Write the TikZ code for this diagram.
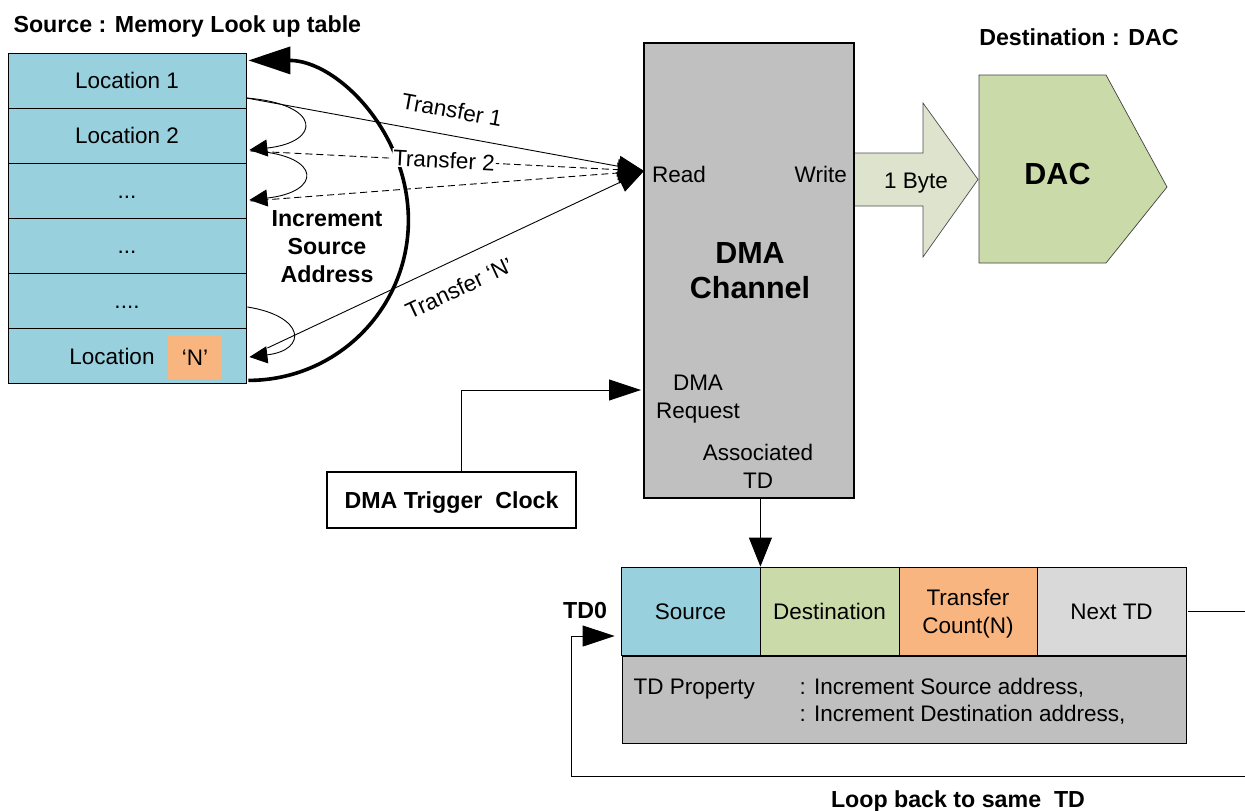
\documentclass[tikz,border=0pt]{standalone}
\usepackage{fontspec}
\setmainfont{Liberation Sans}
\usetikzlibrary{arrows.meta,calc}

\definecolor{memblue}{HTML}{99D0DE}
\definecolor{dacgreen}{HTML}{CADBA9}
\definecolor{cntorange}{HTML}{F8B580}
\definecolor{bytefill}{HTML}{DDE3CC}
\definecolor{nextgray}{HTML}{D9D9D9}
\definecolor{propgray}{HTML}{BFBFBF}
\definecolor{dmagray}{HTML}{C0C0C0}

\begin{document}
\begin{tikzpicture}[x=1pt,y=-1pt,
  rg/.style={font=\fontsize{22.5}{28}\selectfont},
  bd/.style={font=\fontsize{23.2}{28}\selectfont\bfseries},
  big/.style={font=\fontsize{30.5}{35}\selectfont\bfseries},
  one/.style={text height=16.1pt,text depth=0pt},
  two/.style={text height=44.1pt,text depth=0pt,align=center},
  memrow/.style={draw,line width=0.8pt,fill=memblue,minimum width=238pt,
    minimum height=55pt,inner sep=0pt,rg,one},
  tdcell/.style={draw,line width=0.8pt,minimum height=88pt,inner sep=0pt,rg},
  fine/.style={line width=0.9pt},
  dashline/.style={line width=0.9pt,dash pattern=on 7pt off 4pt},
  tipA/.style={-{Triangle[length=18pt,width=17pt]}},
  tipR/.style={-{Triangle[length=26pt,width=21pt]}},
  tipB/.style={-{Triangle[length=32pt,width=21pt]}},
  tipC/.style={-{Triangle[length=29pt,width=23pt]}},
]
\useasboundingbox (0,0) rectangle (1245,811);

% ---------- memory look-up table ----------
\node[bd,anchor=base west] (srctitle) at (10,32) {Source : Memory Look up table};
\node[memrow] (loc1) at (127,80.5)  {Location 1};
\node[memrow] (loc2) at (127,135.5) {Location 2};
\node[memrow] (loc3) at (127,190.5) {...};
\node[memrow] (loc4) at (127,245.5) {...};
\node[memrow] (loc5) at (127,300.5) {....};
\node[memrow] (loc6) at (127,355.5) {};
\node[rg,one,inner sep=0pt] (locn) at (112,356) {Location};
\node[fill=cntorange,minimum width=54pt,minimum height=44pt,inner sep=0pt,rg,one]
  (nbox) at (195,357) {‘N’};

% ---------- DMA channel ----------
\draw[draw=black!70,fill=bytefill,line width=0.7pt]
  (854,153) -- (923,153) -- (923,103) -- (978,179.5) -- (923,257) -- (923,206) -- (854,206);
\node[draw,line width=2pt,fill=dmagray,minimum width=210pt,minimum height=455pt,
  inner sep=0pt] (dma) at (749,270.5) {};
\node[rg,one,anchor=west,inner sep=0pt] (read) at (652,174) {Read};
\node[rg,one,anchor=east,inner sep=0pt] (write) at (847,174) {Write};
\node[big,text height=56.8pt,text depth=0pt,align=center] (dmaname) at (750,270.5)
  {DMA\\Channel};
\node[rg,two] (dmareq) at (698,396) {DMA\\Request};
\node[rg,two] (assoc) at (758,466) {Associated\\TD};
\node[rg,one] (byte) at (916,180) {1 Byte};

% ---------- destination ----------
\node[bd,one,text height=16.6pt] (dsttitle) at (1079,37.5) {Destination : DAC};
\draw[draw=black!75,fill=dacgreen,line width=0.7pt]
  (979,75) -- (1106,75) -- (1167,187) -- (1106,263) -- (979,263) -- cycle;
\node[big,text height=21.8pt,text depth=0pt] (dac) at (1057.5,174) {DAC};

% ---------- address increment loop ----------
\draw[line width=3.6pt,-{Triangle[length=42pt,width=27pt]}]
  ([shift={(2,-3)}]loc6.south east) arc[start angle=90,end angle=-90,radius=160];
\node[bd,text height=72.6pt,text depth=0pt,align=center] (incr) at (327,246)
  {Increment\\Source\\Address};

\draw[fine,tipA] ([yshift=-17.5pt]loc1.east)
  .. controls (322,104) and (322,142) .. ([shift={(3,14.5)}]loc2.east);
\draw[fine,tipA] ([shift={(9,15.5)}]loc2.east)
  .. controls (322,156) and (322,192) .. ([shift={(3,9.5)}]loc3.east);
\draw[fine,tipA] ([shift={(1,6.5)}]loc5.east)
  .. controls (305,316) and (308,350) .. ([shift={(3,1.5)}]loc6.east);

% ---------- transfers to the read port ----------
\coordinate (rd) at ([shift={(1,-99.5)}]dma.west);
\draw[fine,tipR] ([yshift=-17.5pt]loc1.east) -- (rd);
\draw[dashline,tipR] ([shift={(4,15.5)}]loc2.east) -- (rd);
\draw[dashline,tipR] ([shift={(4,10.5)}]loc3.east) -- (rd);
\draw[fine,tipR] ([shift={(21,-7.5)}]loc6.east) -- (rd);
\node[rg,rotate=-10.4] (t1) at (452,110) {Transfer 1};
\node[rg,rotate=-3,fill=white,inner sep=1pt] (t2) at (444,160) {Transfer 2};
\node[rg,rotate=25] (tn) at (459,288) {Transfer ‘N’};

% ---------- trigger ----------
\node[draw,line width=1.3pt,minimum width=249pt,minimum height=56pt,bd,
  text height=16.6pt,text depth=0pt] (trig) at (451.5,500) {DMA Trigger\ \ Clock};
\draw[fine,tipB] ([xshift=9.5pt]trig.north) |- ([shift={(-2,119.5)}]dma.west);

% ---------- transfer descriptor ----------
\node[tdcell,one,fill=memblue,minimum width=139pt] (src) at (690.5,611) {Source};
\node[tdcell,one,fill=dacgreen,minimum width=139pt] (dst) at (829.5,611) {Destination};
\node[tdcell,two,fill=cntorange,minimum width=138pt] (cnt) at (968,611) {Transfer\\Count(N)};
\node[tdcell,one,fill=nextgray,minimum width=149pt] (nxt) at (1111.5,611) {Next TD};
\node[draw,line width=0.8pt,fill=propgray,minimum width=564pt,minimum height=87pt,
  inner sep=0pt] (prop) at (904,699.5) {};
\node[rg,anchor=base west] (propname) at (630,694) {TD Property};
\node[font=\fontsize{22.5}{27}\selectfont,align=left,anchor=base west] (propval) at (796,721)
  {: Increment Source address,\\: Increment Destination address,};
\node[bd,one,text height=16.6pt] (td0) at (585,610.5) {TD0};

\draw[fine,tipC] (dma.south -| src.north east) -- (src.north east);

\coordinate (nxtout) at (1245,611);
\coordinate (loopin) at (1245,776);
\coordinate (loopcorner) at (571,776);
\draw[fine] ([xshift=2pt]nxt.east) -- (nxtout);
\draw[fine,tipB] (loopin) -- (loopcorner) |- ([shift={(-6,25)}]src.west);
\node[bd,one,text height=16.6pt] (looplbl) at (958,799) {Loop back to same\ \ TD};
\end{tikzpicture}
\end{document}
